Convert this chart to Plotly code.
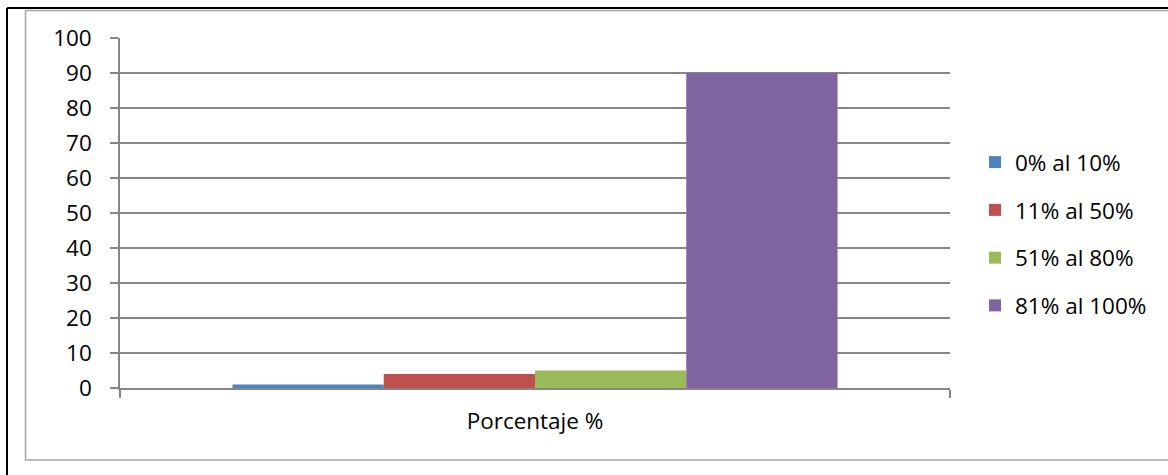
import plotly.graph_objects as go

# Data
category = ["Porcentaje %"]
series_names = ["0% al 10%", "11% al 50%", "51% al 80%", "81% al 100%"]
series_values = [1, 4, 5, 90]
series_colors = ["#4F81BD", "#C0504D", "#9BBB59", "#8064A2"]
y_ticks = list(range(0, 101, 10))

# Canvas and plot-area geometry (pixels)
W, H = 1168, 475
ML, MR, MT, MB = 120, 218, 38, 87
PW = W - ML - MR
PH = H - MT - MB


def px_x(px):
    return (px - ML) / PW


def px_y(py):
    return (H - MB - py) / PH


FONT = "Open Sans"
FS = 22.5
GRID = "#868686"

fig = go.Figure()
for name, val, col in zip(series_names, series_values, series_colors):
    fig.add_trace(go.Bar(
        x=category, y=[val], name=name, marker_color=col,
        marker_line_width=0, legendgroup=name,
    ))

fig.update_layout(
    width=W, height=H, autosize=False,
    margin=dict(l=ML, r=MR, t=MT, b=MB, pad=0),
    paper_bgcolor="white", plot_bgcolor="white",
    barmode="group", bargap=0.271, bargroupgap=0,
    font=dict(family=FONT, size=FS, color="black"),
    showlegend=True,
    legend=dict(
        x=px_x(975), y=px_y(141), xanchor="left", yanchor="top",
        font=dict(family=FONT, size=FS, color="black"),
        traceorder="grouped", tracegroupgap=15.5,
        bgcolor="rgba(0,0,0,0)", borderwidth=0,
    ),
    xaxis=dict(
        showgrid=False, showline=True, linecolor=GRID, linewidth=1.5,
        ticks="outside", tickson="boundaries", ticklen=8, tickcolor=GRID,
        tickwidth=1.5, ticklabelstandoff=12,
        tickfont=dict(family=FONT, size=FS, color="black"),
        zeroline=False,
    ),
    yaxis=dict(
        range=[0, 100], tickvals=y_ticks, showgrid=True, gridcolor=GRID,
        gridwidth=1.5, showline=True, linecolor=GRID, linewidth=1.5,
        ticks="outside", ticklen=8, tickcolor=GRID, tickwidth=1.5,
        ticklabelstandoff=14, zeroline=False,
        tickfont=dict(family=FONT, size=FS, color="black"),
    ),
    shapes=[
        # chart-area frame
        dict(type="rect", xref="paper", yref="paper",
             x0=px_x(25.5), x1=px_x(1180), y0=px_y(460), y1=px_y(10.5),
             line=dict(color="#A6A6A6", width=1.5), fillcolor="rgba(0,0,0,0)",
             layer="below"),
        # outer page border
        dict(type="line", xref="paper", yref="paper",
             x0=px_x(7), x1=px_x(7), y0=px_y(480), y1=px_y(8),
             line=dict(color="black", width=2)),
        dict(type="line", xref="paper", yref="paper",
             x0=px_x(7), x1=px_x(1180), y0=px_y(8), y1=px_y(8),
             line=dict(color="black", width=2)),
    ],
)

fig.write_html("out.html")
